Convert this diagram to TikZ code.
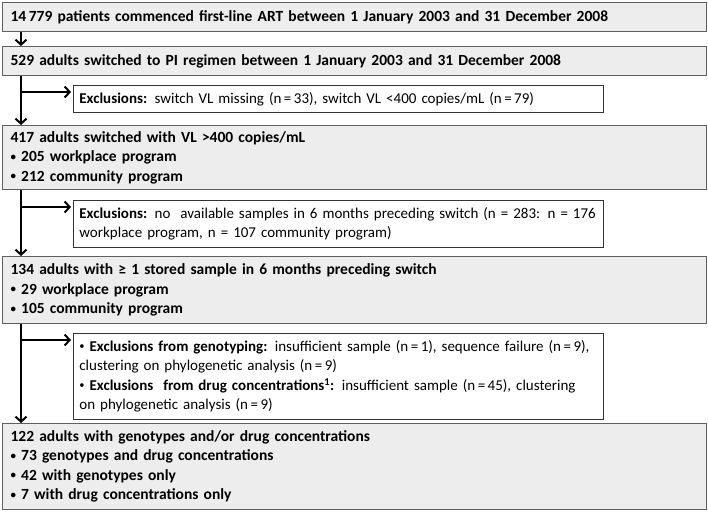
\documentclass[tikz,border=0pt]{standalone}
\usepackage{fontspec}
\setmainfont{Carlito}
\usepackage{tikz}
\usetikzlibrary{arrows.meta,calc,positioning}

\definecolor{boxgrey}{HTML}{EDEDED}
\definecolor{boxline}{HTML}{5F5F5F}

\newcommand{\pt}{\raisebox{0.1em}{\scalebox{0.7}{•}}\ }

\tikzset{
  stage/.style={draw=boxline, line width=1.2pt, fill=boxgrey, anchor=north west,
    align=left, text width=688pt, inner xsep=8pt, inner ysep=0pt,
    font=\bfseries\fontsize{15.5}{19.5}\selectfont},
  exclbox/.style={draw=black!80, line width=0.8pt, fill=white, anchor=north west,
    align=left, text width=518pt, inner xsep=6pt, inner ysep=0pt,
    font=\fontsize{15}{19.5}\selectfont},
  flow/.style={-{Straight Barb[length=5pt,width=11pt]}, line width=2pt},
}

\begin{document}
\begin{tikzpicture}[x=1pt, y=-1pt]

    \useasboundingbox (0,0) rectangle (708,511);

    % Main stages
    \node[stage, minimum height=29pt] (b1) at (2,2)
        {14\,779 patients commenced first-line ART between 1 January 2003 and 31 December 2008};
    \node[stage, minimum height=29pt] (b2) at (2,46)
        {529 adults switched to PI regimen between 1 January 2003 and 31 December 2008};
    \node[stage, minimum height=64pt] (b3) at (2,125)
        {417 adults switched with VL >400 copies/mL\\
         \pt 205 workplace program\\
         \pt 212 community program};
    \node[stage, minimum height=67pt] (b4) at (2,256)
        {134 adults with ≥ 1 stored sample in 6 months preceding switch\\
         \pt 29 workplace program\\
         \pt 105 community program};
    \node[stage, minimum height=86pt] (b5) at (2,423)
        {122 adults with genotypes and/or drug concentrations\\
         \pt 73 genotypes and drug concentrations\\
         \pt 42 with genotypes only\\
         \pt 7 with drug concentrations only};

    % Exclusions
    \node[exclbox, minimum height=27pt] (ex1) at (73,85)
        {\textbf{Exclusions:} switch VL missing (n\,=\,33), switch VL <400 copies/mL (n\,=\,79)};
    \node[exclbox, minimum height=47pt] (ex2) at (73,200)
        {\textbf{Exclusions:} no~ available samples in 6 months preceding switch (n = 283: n = 176\\
         workplace program, n = 107 community program)};
    \node[exclbox, minimum height=86pt] (ex3) at (73,333)
        {\pt\textbf{Exclusions from genotyping:} insufficient sample (n\,=\,1), sequence failure (n\,=\,9),\\
         clustering on phylogenetic analysis (n\,=\,9)\\
         \pt\textbf{Exclusions~ from drug concentrations\textsuperscript{1}:} insufficient sample (n\,=\,45), clustering\\
         on phylogenetic analysis (n\,=\,9)};

    % Trunk
    \coordinate (trunk) at (21,0);
    \draw[flow] (b1.south -| trunk) -- (b2.north -| trunk);
    \draw[flow] (b2.south -| trunk) -- (b3.north -| trunk);
    \draw[flow] (b3.south -| trunk) -- (b4.north -| trunk);
    \draw[flow] (b4.south -| trunk) -- (b5.north -| trunk);

    % Branches
    \foreach \ex in {ex1,ex2,ex3} {
        \coordinate (\ex-in) at ($(\ex.north west)+(0,7)$);
        \draw[flow, shorten >=2pt] (\ex-in -| trunk) -- (\ex-in);
    }
\end{tikzpicture}
\end{document}
